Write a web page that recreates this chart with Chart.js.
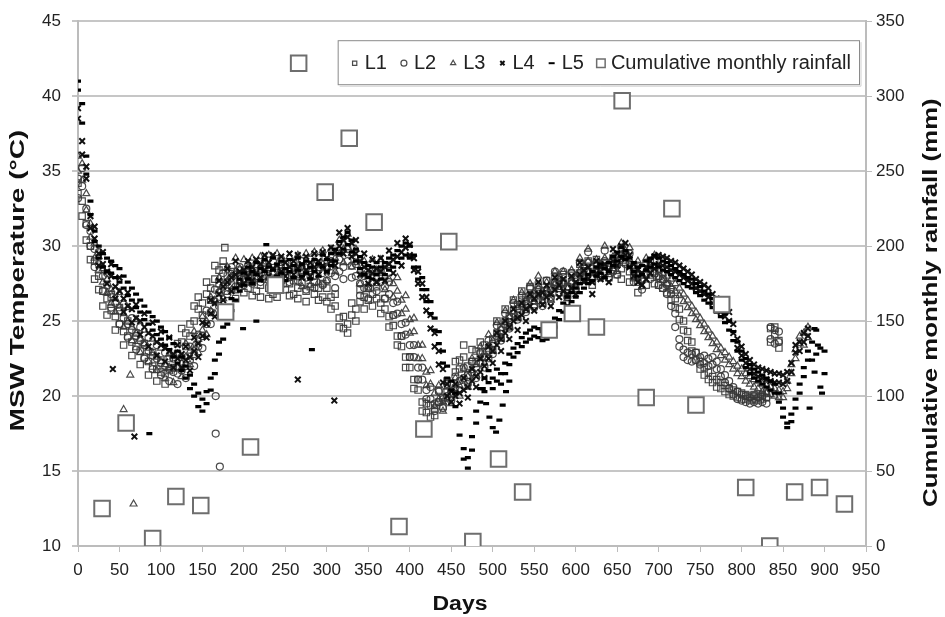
<!DOCTYPE html>
<html>
<head>
<meta charset="utf-8">
<title>MSW temperature and rainfall</title>
<script src="https://cdn.jsdelivr.net/npm/chart.js@4.4.0/dist/chart.umd.min.js"></script>
<style>
    html, body { margin: 0; padding: 0; background: #fff; }
    #wrap { position: relative; width: 945px; height: 617px; }
</style>
</head>
<body>
<div id="wrap"><canvas id="mswChart"></canvas></div>
<script>
// ===== DATA =====
const days = [
    0, 5, 10, 15, 20, 25, 30, 35, 40, 45,
    50, 55, 60, 65, 70, 75, 80, 85, 90, 95,
    100, 105, 110, 115, 120, 125, 130, 135, 140, 145,
    150, 155, 160, 165, 170, 175, 180, 185, 190, 195,
    200, 205, 210, 215, 220, 225, 230, 235, 240, 245,
    250, 255, 260, 265, 270, 275, 280, 285, 290, 295,
    300, 305, 310, 315, 320, 325, 330, 335, 340, 345,
    350, 355, 360, 365, 370, 375, 380, 385, 390, 395,
    400, 405, 410, 415, 420, 425, 430, 435, 440, 445,
    450, 455, 460, 465, 470, 475, 480, 485, 490, 495,
    500, 505, 510, 515, 520, 525, 530, 535, 540, 545,
    550, 555, 560, 565, 570, 575, 580, 585, 590, 595,
    600, 605, 610, 615, 620, 625, 630, 635, 640, 645,
    650, 655, 660, 665, 670, 675, 680, 685, 690, 695,
    700, 705, 710, 715, 720, 725, 730, 735, 740, 745,
    750, 755, 760, 765, 770, 775, 780, 785, 790, 795,
    800, 805, 810, 815, 820, 825, 830, 835, 840, 845,
    850, 855, 860, 865, 870, 875, 880, 885, 890, 895,
    900
];

// L1 - two readings per day slot (main + scatter edge)
const l1Temp = [
    33.5, 33.0, 31.5, 30.0, 29.0, 28.0, 27.0, 26.5, 25.7, 25.3,
    24.8, 24.3, 24.0, 23.6, 23.3, 23.0, 22.6, 22.3, 22.0, 21.8,
    21.6, 21.5, 21.7, 22.6, 23.5, 24.5, 24.2, 24.0, 25.0, 25.8,
    26.2, 26.8, 27.2, 27.8, 28.4, 28.6, 28.0, 27.4, 27.1, 27.5,
    27.8, 27.2, 27.6, 27.0, 27.4, 27.8, 27.2, 26.8, 27.3, 27.7,
    27.1, 27.5, 26.8, 27.2, 27.6, 27.0, 27.3, 26.8, 27.2, 26.6,
    26.3, 26.6, 26.0, 25.2, 24.5, 24.8, 25.4, 25.8, 26.3, 26.6,
    26.4, 26.8, 26.5, 26.2, 25.8, 25.3, 24.7, 24.0, 23.3, 22.6,
    21.9, 21.1, 20.4, 19.6, 18.9, 18.6, 19.2, 19.6, 19.9, 20.3,
    20.8, 21.6, 22.4, 23.4, 22.0, 22.3, 23.0, 23.6, 22.6, 23.2,
    23.8, 24.2, 24.6, 25.0, 25.3, 25.7, 26.1, 26.4, 26.6, 26.7,
    26.8, 26.7, 26.8, 27.0, 27.2, 27.4, 27.6, 27.5, 27.3, 27.6,
    27.9, 28.2, 28.5, 28.3, 28.0, 28.4, 28.7, 28.2, 28.6, 28.4,
    28.1, 28.5, 28.9, 28.3, 27.9, 27.6, 27.8, 28.1, 28.3, 28.2,
    28.0, 27.8, 27.5, 27.1, 26.5, 25.8, 25.0, 24.3, 23.6, 22.9,
    22.3, 21.9, 21.6, 21.3, 21.1, 20.9, 20.7, 20.5, 20.4, 20.3,
    20.2, 20.1, 20.0, 20.1, 20.0, 20.1, 20.2, 24.5, 24.1, 23.7
];
const l1Spread = [
    34.2, 32.0, 30.4, 29.1, 27.8, 27.1, 26.0, 25.4, 26.6, 24.4,
    25.9, 23.4, 25.0, 22.7, 24.2, 22.1, 23.5, 21.4, 22.9, 21.0,
    22.4, 20.8, 22.5, 21.9, 22.8, 23.6, 23.3, 24.8, 26.0, 26.6,
    25.4, 27.6, 26.4, 28.7, 27.5, 29.0, 27.0, 28.3, 26.5, 28.4,
    26.9, 28.1, 26.7, 28.0, 26.6, 28.6, 26.5, 27.7, 26.6, 28.5,
    27.9, 26.7, 27.7, 26.5, 28.4, 26.3, 28.1, 27.6, 26.4, 27.5,
    27.2, 25.8, 26.8, 24.6, 25.3, 24.2, 26.2, 25.0, 27.1, 25.8,
    27.2, 26.0, 27.3, 25.5, 26.5, 24.6, 25.4, 23.4, 24.0, 21.9,
    22.6, 20.5, 21.1, 19.0, 19.5, 19.4, 18.7, 20.4, 19.3, 21.0,
    20.2, 22.3, 21.8, 22.6, 21.4, 23.1, 22.3, 22.8, 23.4, 22.5,
    23.1, 25.0, 23.9, 25.8, 24.6, 26.4, 25.4, 27.0, 25.9, 27.3,
    26.1, 27.4, 26.2, 27.7, 26.5, 28.0, 26.9, 28.1, 26.7, 28.2,
    27.2, 28.8, 27.8, 29.0, 27.4, 29.1, 28.0, 28.9, 27.9, 29.2,
    28.8, 27.8, 29.5, 27.6, 28.6, 26.9, 28.5, 27.4, 29.0, 27.5,
    27.4, 27.2, 26.9, 26.4, 25.9, 25.1, 24.4, 23.7, 23.0, 22.4,
    21.8, 21.4, 21.1, 20.9, 20.6, 20.5, 20.3, 20.1, 20.0, 19.9,
    19.8, 19.8, 19.7, 19.8, 19.7, 19.8, 19.9, 23.6, 24.6, 23.2
];

const l2Temp = [
    34.5, 34.0, 32.5, 31.0, 29.8, 28.8, 28.0, 27.4, 26.8, 26.2,
    25.7, 25.2, 24.8, 24.4, 24.0, 23.7, 23.4, 23.0, 22.7, 22.5,
    22.2, 22.0, 21.8, 21.6, 21.5, 21.7, 22.0, 22.4, 22.8, 23.3,
    24.0, 24.8, 25.6, 26.3, 26.9, 27.3, 27.6, 27.9, 28.1, 27.8,
    28.2, 27.9, 28.3, 28.0, 28.4, 28.1, 28.5, 28.2, 27.9, 28.3,
    28.0, 28.4, 28.1, 28.5, 28.2, 27.9, 28.3, 28.0, 28.4, 28.2,
    28.5, 28.2, 28.0, 28.3, 28.6, 29.0, 28.7, 28.0, 27.5, 27.2,
    27.3, 27.6, 27.8, 27.6, 27.3, 26.8, 26.2, 25.5, 24.8, 24.1,
    23.4, 22.6, 21.9, 21.1, 20.4, 19.8, 19.5, 19.6, 19.8, 20.0,
    20.3, 20.6, 21.0, 21.2, 21.4, 21.6, 21.9, 22.2, 22.6, 23.0,
    23.5, 24.0, 24.4, 24.8, 25.2, 25.5, 25.8, 26.0, 26.3, 26.5,
    26.6, 26.4, 26.7, 27.0, 27.3, 27.6, 27.9, 27.6, 27.3, 27.5,
    27.8, 28.2, 28.6, 28.9, 28.5, 28.2, 28.6, 29.0, 28.6, 28.3,
    28.8, 29.2, 29.5, 28.8, 28.3, 28.0, 27.8, 28.2, 28.5, 28.3,
    28.0, 27.8, 27.4, 26.8, 25.5, 23.8, 23.1, 22.9, 22.8, 22.9,
    22.6, 22.7, 22.5, 22.6, 22.3, 21.8, 21.4, 21.0, 20.6, 20.3,
    20.1, 20.0, 19.9, 20.0, 19.9, 20.0, 19.9, 23.8, 24.4, 23.6
];
const l2Spread = [
    33.2, 35.2, 31.4, 30.0, 28.6, 29.6, 27.0, 28.2, 25.9, 27.0,
    24.8, 26.1, 23.9, 25.2, 23.1, 24.6, 22.5, 23.9, 21.8, 23.4,
    21.4, 22.9, 21.0, 22.5, 20.8, 22.6, 21.2, 23.3, 22.0, 24.1,
    23.2, 25.7, 24.8, 27.1, 26.0, 28.2, 26.8, 28.6, 27.3, 28.6,
    27.4, 28.7, 27.5, 28.8, 27.6, 28.9, 27.7, 29.0, 27.1, 29.1,
    28.8, 27.6, 28.9, 27.7, 29.0, 27.1, 29.1, 27.2, 29.2, 27.4,
    27.7, 29.0, 27.2, 29.1, 27.8, 29.8, 27.9, 28.8, 26.7, 28.0,
    26.5, 28.4, 27.0, 28.4, 26.5, 27.6, 25.4, 26.3, 24.0, 24.9,
    22.6, 23.4, 21.1, 21.9, 19.8, 20.6, 19.0, 20.3, 19.2, 20.8,
    19.7, 21.3, 20.4, 21.9, 20.8, 22.3, 21.2, 22.9, 21.9, 23.7,
    22.8, 24.7, 23.7, 25.5, 24.5, 26.2, 25.1, 26.7, 25.6, 27.2,
    25.9, 27.1, 26.0, 27.7, 26.6, 28.3, 27.2, 28.3, 26.6, 28.2,
    27.1, 28.9, 27.9, 29.6, 27.8, 28.9, 27.9, 29.7, 27.9, 29.0,
    28.1, 29.9, 28.8, 29.5, 27.6, 28.7, 27.1, 28.9, 27.8, 29.0,
    27.4, 27.2, 26.8, 26.0, 24.6, 23.3, 22.6, 22.4, 22.3, 22.4,
    22.1, 22.2, 22.0, 22.1, 21.8, 21.3, 20.9, 20.5, 20.1, 19.8,
    19.7, 19.6, 19.5, 19.6, 19.5, 19.6, 19.5, 24.6, 23.5, 24.3
];

const l3Temp = [
    36.0, 35.5, 33.5, 31.5, 30.2, 29.3, 28.5, 27.8, 27.1, 26.5,
    26.0, 25.5, 25.0, 24.6, 24.2, 23.8, 23.5, 23.2, 22.9, 22.6,
    22.3, 22.1, 21.9, 21.8, 21.9, 22.2, 22.6, 23.0, 23.4, 23.8,
    24.4, 25.0, 25.7, 26.4, 27.0, 27.4, 27.7, 28.0, 28.3, 28.5,
    28.2, 28.6, 28.3, 28.7, 28.4, 28.8, 28.5, 28.2, 28.6, 28.3,
    28.7, 28.4, 28.8, 28.5, 28.2, 28.6, 28.3, 28.7, 28.5, 28.8,
    28.6, 28.9, 29.2, 29.5, 29.8, 29.9, 29.5, 28.9, 28.4, 28.1,
    28.0, 28.2, 28.4, 28.2, 28.0, 27.8, 27.5, 27.0, 26.4, 25.8,
    25.1, 24.3, 23.4, 22.5, 21.6, 20.8, 20.2, 19.8, 19.6, 19.8,
    20.1, 20.4, 20.7, 21.0, 21.3, 21.7, 22.1, 22.5, 22.9, 23.3,
    23.7, 24.1, 24.5, 24.9, 25.3, 25.6, 25.9, 26.1, 26.4, 26.7,
    27.0, 27.2, 27.0, 26.8, 27.1, 27.5, 27.8, 27.5, 27.2, 27.6,
    28.0, 28.4, 28.7, 29.0, 28.6, 28.3, 28.8, 29.2, 28.8, 28.5,
    29.0, 29.4, 29.7, 29.1, 28.6, 28.2, 28.0, 28.4, 28.7, 28.6,
    28.4, 28.2, 28.0, 27.8, 27.5, 27.2, 26.8, 26.4, 26.0, 25.6,
    25.2, 24.8, 24.4, 24.0, 23.6, 23.2, 22.9, 22.6, 22.3, 22.0,
    21.8, 21.5, 21.3, 21.1, 21.0, 20.8, 20.7, 20.6, 20.5, 20.4,
    20.3, 20.5, 21.5, 22.5, 23.5, 24.2, 24.6
];
const l3Spread = [
    35.0, 34.4, 32.4, 30.6, 29.2, 28.4, 27.6, 26.9, 26.2, 25.6,
    26.9, 24.6, 25.9, 23.7, 25.1, 22.9, 24.4, 22.3, 23.8, 21.7,
    23.2, 21.2, 22.8, 20.9, 22.8, 21.3, 23.5, 22.1, 24.3, 22.9,
    25.3, 24.1, 26.6, 25.5, 27.9, 26.5, 28.6, 27.1, 29.2, 27.6,
    29.1, 27.7, 29.2, 27.8, 29.3, 27.9, 29.4, 27.3, 29.5, 27.4,
    27.8, 29.3, 27.9, 29.4, 27.3, 29.5, 27.4, 29.6, 27.6, 29.7,
    27.7, 29.8, 28.3, 30.4, 28.9, 30.8, 28.6, 29.8, 27.5, 29.0,
    27.1, 29.1, 27.5, 29.1, 27.1, 28.7, 26.6, 27.9, 25.5, 26.7,
    24.2, 25.2, 22.5, 23.4, 20.7, 21.7, 19.3, 20.7, 19.0, 20.6,
    19.5, 21.2, 20.0, 21.8, 20.6, 22.5, 21.4, 23.3, 22.2, 24.1,
    23.0, 24.9, 23.8, 25.7, 24.6, 26.4, 25.2, 26.9, 25.7, 27.5,
    26.3, 28.0, 26.3, 27.6, 26.4, 28.3, 27.1, 28.3, 26.5, 28.4,
    27.3, 29.2, 28.0, 29.8, 27.9, 29.1, 28.1, 30.0, 28.1, 29.3,
    28.3, 30.2, 29.0, 29.9, 27.9, 29.0, 27.3, 29.2, 28.0, 29.4,
    27.9, 27.7, 27.5, 27.3, 27.0, 26.7, 26.3, 25.9, 25.5, 25.1,
    24.7, 24.3, 23.9, 23.5, 23.1, 22.7, 22.4, 22.1, 21.8, 21.5,
    21.3, 21.0, 20.8, 20.6, 20.5, 20.3, 20.2, 20.1, 20.0, 19.9,
    19.9, 21.0, 22.1, 23.1, 24.0, 23.4, 23.9
];

const l4Temp = [
    38.5, 37.0, 34.5, 32.0, 30.5, 29.5, 28.8, 28.3, 28.0, 27.3,
    27.0, 26.5, 26.0, 25.8, 25.2, 25.0, 24.6, 24.2, 24.0, 23.6,
    23.4, 23.2, 23.0, 22.8, 22.5, 22.8, 22.4, 22.6, 23.0, 23.5,
    24.0, 24.8, 25.5, 26.2, 26.8, 27.3, 27.6, 27.9, 28.1, 28.3,
    28.4, 28.0, 28.6, 28.2, 28.8, 28.4, 28.9, 28.5, 28.7, 28.3,
    28.9, 28.6, 29.0, 28.5, 28.8, 28.4, 28.9, 28.6, 29.0, 28.7,
    29.2, 29.0, 29.6, 30.0, 30.4, 30.6, 30.2, 29.5, 29.0, 28.6,
    28.4, 28.2, 28.5, 28.3, 28.6, 28.8, 29.1, 29.3, 29.6, 29.9,
    30.1, 29.2, 28.3, 27.5, 26.6, 25.4, 24.2, 23.0, 21.8, 20.8,
    20.3, 20.0, 20.2, 20.4, 20.6, 21.0, 21.3, 21.6, 22.0, 22.5,
    23.0, 23.4, 23.8, 24.2, 24.6, 25.0, 25.2, 25.4, 25.8, 26.0,
    26.5, 26.8, 26.9, 26.6, 26.8, 27.1, 27.4, 27.0, 26.8, 27.2,
    27.6, 28.1, 28.4, 27.8, 27.6, 28.2, 28.6, 28.0, 28.4, 29.0,
    29.5, 30.0, 30.2, 29.4, 28.8, 28.4, 28.2, 28.6, 29.0, 29.3,
    29.4, 29.3, 29.2, 29.0, 28.9, 28.7, 28.5, 28.3, 28.1, 27.8,
    27.6, 27.4, 27.2, 26.8, 26.5, 26.2, 25.9, 25.6, 24.8, 23.8,
    23.3, 22.8, 22.4, 22.1, 21.9, 21.8, 21.7, 21.6, 21.5, 21.5,
    21.4, 21.6, 22.2, 22.9, 23.6, 24.2, 24.5
];
const l4Spread = [
    39.2, 36.1, 35.3, 31.2, 31.3, 28.7, 29.6, 27.5, 28.8, 26.5,
    27.9, 25.6, 26.9, 24.9, 26.1, 24.1, 25.5, 23.3, 24.9, 22.7,
    24.3, 22.3, 23.9, 21.9, 23.4, 21.9, 23.3, 21.7, 23.9, 22.6,
    24.9, 23.9, 26.4, 25.3, 27.7, 26.4, 28.5, 27.0, 29.0, 27.4,
    27.5, 29.0, 27.7, 29.1, 27.9, 29.4, 28.0, 29.4, 27.8, 29.3,
    28.0, 29.5, 28.1, 29.4, 27.9, 29.3, 28.0, 29.5, 28.1, 29.6,
    28.3, 29.9, 28.7, 30.9, 29.5, 31.2, 29.3, 30.4, 28.1, 29.5,
    27.5, 29.1, 27.6, 29.2, 27.7, 29.7, 28.2, 30.2, 28.7, 30.5,
    29.4, 28.4, 27.5, 26.6, 25.7, 24.5, 23.3, 22.1, 20.9, 20.0,
    19.6, 20.8, 19.5, 21.2, 19.9, 21.8, 20.6, 22.5, 21.2, 23.3,
    22.2, 24.2, 23.0, 25.0, 23.8, 25.8, 24.4, 26.2, 25.0, 26.8,
    25.7, 27.6, 26.1, 27.4, 26.0, 27.9, 26.6, 27.8, 26.0, 28.0,
    26.8, 28.9, 27.6, 28.6, 26.8, 29.0, 27.8, 28.8, 27.6, 29.8,
    28.7, 29.2, 29.4, 28.6, 28.0, 27.6, 27.4, 27.8, 28.2, 28.5,
    28.8, 28.7, 28.6, 28.4, 28.3, 28.1, 27.9, 27.7, 27.5, 27.2,
    27.0, 26.8, 26.6, 26.2, 25.9, 25.6, 25.3, 25.0, 24.2, 23.2,
    22.7, 22.2, 21.8, 21.5, 21.3, 21.2, 21.1, 21.0, 20.9, 20.9,
    20.8, 21.0, 21.6, 23.4, 23.0, 23.6, 24.0
];

const l5Temp = [
    41.0, 39.5, 36.0, 33.0, 31.0, 30.0, 29.5, 29.2, 29.0, 28.7,
    28.5, 28.0, 27.6, 27.2, 26.8, 26.4, 26.0, 25.6, 25.3, 25.0,
    24.6, 24.3, 23.9, 23.5, 23.0, 22.6, 22.0, 21.4, 20.8, 20.2,
    19.8, 20.3, 21.2, 22.4, 23.6, 24.6, 25.6, 26.5, 27.2, 27.8,
    28.2, 28.6, 28.3, 28.9, 28.5, 29.1, 28.6, 29.2, 28.8, 29.0,
    28.5, 29.1, 28.7, 29.2, 28.8, 29.0, 28.6, 29.1, 28.8, 29.4,
    29.1, 29.5, 29.8, 30.3, 30.6, 30.9, 30.4, 29.8, 29.3, 28.9,
    28.7, 28.6, 28.9, 28.6, 28.9, 29.2, 29.4, 29.7, 30.0, 30.2,
    30.0, 29.4, 28.6, 27.9, 27.1, 26.3, 25.2, 24.3, 23.0, 22.0,
    21.0, 20.2, 18.5, 16.5, 15.2, 16.4, 18.2, 19.6, 20.3, 20.9,
    21.2, 21.0, 21.5, 22.2, 22.8, 23.2, 23.5, 23.9, 24.2, 24.4,
    24.6, 24.5, 24.3, 24.4, 24.8, 25.2, 25.7, 26.2, 26.6, 26.9,
    27.2, 27.5, 27.8, 28.1, 28.3, 28.6, 28.8, 28.5, 28.9, 29.3,
    29.6, 29.9, 29.7, 29.2, 28.9, 28.6, 28.7, 29.0, 29.2, 29.4,
    29.2, 29.0, 28.9, 28.7, 28.5, 28.3, 28.1, 27.9, 27.8, 27.5,
    27.3, 27.0, 26.8, 26.5, 26.2, 25.9, 25.5, 25.0, 24.3, 23.6,
    23.0, 22.5, 22.1, 21.8, 21.6, 21.4, 21.2, 21.0, 20.8, 20.2,
    19.2, 18.2, 18.3, 19.2, 20.2, 21.3, 22.4, 23.6, 24.4, 23.2,
    21.5
];
const l5Spread = [
    40.4, 38.2, 34.8, 32.1, 30.3, 29.2, 28.6, 28.3, 28.2, 27.9,
    27.6, 27.2, 26.7, 26.4, 25.9, 25.6, 25.1, 24.8, 24.4, 24.1,
    23.8, 23.4, 23.1, 22.6, 22.2, 21.7, 21.2, 20.5, 20.0, 19.3,
    19.0, 19.5, 20.4, 21.5, 22.8, 23.8, 24.8, 25.7, 26.4, 27.0,
    27.4, 27.8, 27.5, 28.1, 27.7, 28.3, 27.8, 28.4, 28.0, 28.2,
    27.7, 28.3, 27.9, 28.4, 28.0, 28.2, 27.8, 28.3, 28.0, 28.6,
    28.3, 28.7, 29.0, 29.5, 29.8, 30.1, 29.6, 29.0, 28.5, 28.1,
    27.9, 27.8, 28.1, 27.8, 28.1, 28.4, 28.6, 28.9, 29.2, 29.4,
    29.2, 28.6, 27.8, 27.1, 26.3, 25.5, 24.4, 23.5, 22.2, 21.2,
    20.4, 19.3, 17.4, 15.8, 15.9, 17.3, 19.0, 20.5, 21.2, 21.7,
    20.5, 21.8, 20.8, 21.5, 22.1, 22.6, 22.9, 23.3, 23.6, 23.8,
    24.0, 23.9, 23.7, 23.8, 24.2, 24.6, 25.1, 25.6, 26.0, 26.3,
    26.6, 26.9, 27.2, 27.5, 27.7, 28.0, 28.2, 27.9, 28.3, 28.7,
    29.0, 29.3, 29.1, 28.6, 28.3, 28.0, 28.1, 28.4, 28.6, 28.8,
    28.6, 28.4, 28.3, 28.1, 27.9, 27.7, 27.5, 27.3, 27.2, 26.9,
    26.7, 26.4, 26.2, 25.9, 25.6, 25.3, 24.9, 24.4, 23.7, 23.0,
    22.4, 21.9, 21.5, 21.2, 21.0, 20.8, 20.6, 20.4, 20.2, 19.6,
    18.6, 17.9, 18.8, 19.8, 20.8, 21.9, 23.0, 22.4, 22.8, 20.6,
    23.0
];

// stray readings away from the main bands
const l1ExtraDays = [177];
const l1ExtraTemp = [29.9];
const l2ExtraDays = [166, 166, 171];
const l2ExtraTemp = [20.0, 17.5, 15.3];
const l3ExtraDays = [55, 63, 67];
const l3ExtraTemp = [19.1, 21.4, 12.8];
const l4ExtraDays = [42, 68, 265, 309];
const l4ExtraTemp = [21.8, 17.3, 21.1, 19.7];
const l5ExtraDays = [86, 199, 215, 227, 282, 488, 492, 496, 500, 504, 508, 512, 516, 520, 882, 888, 888, 892, 897];
const l5ExtraTemp = [17.5, 24.5, 25.0, 30.1, 23.1, 20.5, 19.5, 18.6, 17.9, 17.6, 18.4, 19.4, 20.3, 21.0, 19.2, 24.5, 21.6, 23.4, 20.2];

// cumulative monthly rainfall (mm), right axis
const rainDays = [29, 58, 90, 118, 148, 178, 208, 238, 266, 298, 327, 357, 387, 417, 447, 476,
    507, 536, 568, 596, 625, 656, 685, 716, 745, 776, 805, 834, 864, 894, 924];
const rainMm = [25, 82, 5, 33, 27, 156, 66, 174, 322, 236, 272, 216, 13, 78, 203, 3,
    58, 36, 144, 155, 146, 297, 99, 225, 94, 161, 39, 0, 36, 39, 28];

// ===== HELPERS =====
function toPoints(xs, ys) {
    const pts = [];
    for (let i = 0; i < ys.length; i++) {
        if (ys[i] !== null && ys[i] !== undefined) pts.push({ x: xs[i], y: ys[i] });
    }
    return pts;
}

const FONT = "'Liberation Sans', Arial, sans-serif";
const TEXT = '#222';
const AXIS_GRAY = '#bcbcbc';
const MARK_GRAY = 'rgba(55, 55, 55, 0.9)';

// stretched bold title (the original export has long, narrow title lettering)
function drawTitle(ctx, text, x, y, rotation, size, stretch) {
    ctx.save();
    ctx.translate(x, y);
    ctx.rotate(rotation);
    ctx.scale(stretch, 1);
    ctx.font = 'bold ' + size + 'px ' + FONT;
    ctx.fillStyle = '#111';
    ctx.textAlign = 'center';
    ctx.textBaseline = 'middle';
    ctx.fillText(text, 0, 0);
    ctx.restore();
}

// ===== AXIS TITLES =====
const axisTitles = {
    id: 'axisTitles',
    afterDraw(chart) {
        const ctx = chart.ctx;
        const area = chart.chartArea;
        const midY = (area.top + area.bottom) / 2;
        drawTitle(ctx, 'MSW Temperature (°C)', area.left - 60, midY - 3, -Math.PI / 2, 20, 1.4);
        drawTitle(ctx, 'Cumulative monthly rainfall (mm)', chart.width - 14, midY + 19, -Math.PI / 2, 20, 1.29);
        drawTitle(ctx, 'Days', (area.left + area.right) / 2 - 12, area.bottom + 58, 0, 20, 1.15);
    }
};

// ===== LEGEND BOX (inside the plot, top right) =====
const legendBox = {
    id: 'legendBox',
    afterDraw(chart) {
        const ctx = chart.ctx;
        const area = chart.chartArea;
        const items = chart.data.datasets;
        ctx.save();
        ctx.font = '20px ' + FONT;
        ctx.textBaseline = 'middle';

        const markW = 10, gapAfterMark = 5, gapItems = 12, padL = 12, padR = 8;
        let total = padL + padR;
        items.forEach((ds, i) => {
            total += markW + gapAfterMark + ctx.measureText(ds.label).width;
            if (i < items.length - 1) total += gapItems;
        });

        const right = area.right - 7;
        const left = right - total;
        const top = area.top + 19;
        const h = 44;

        ctx.fillStyle = '#fff';
        ctx.fillRect(left, top, total, h);
        ctx.strokeStyle = '#8a8a8a';
        ctx.lineWidth = 1;
        ctx.strokeRect(left + 0.5, top + 0.5, total, h);
        ctx.strokeStyle = '#cfcfcf';
        ctx.beginPath();
        ctx.moveTo(left + 2, top + h + 2);
        ctx.lineTo(left + total + 2, top + h + 2);
        ctx.lineTo(left + total + 2, top + 2);
        ctx.stroke();

        const cy = top + h / 2 + 1;
        let x = left + padL;
        items.forEach(ds => {
            const big = ds.pointRadius > 6;
            const style = {
                pointStyle: ds.pointStyle,
                radius: big ? 6 : 3,
                rotation: 0,
                borderWidth: big ? 1.5 : Math.min(ds.borderWidth, 2)
            };
            ctx.strokeStyle = ds.borderColor;
            ctx.fillStyle = big ? '#fff' : 'rgba(0,0,0,0)';
            ctx.lineWidth = style.borderWidth;
            Chart.helpers.drawPoint(ctx, style, x + markW / 2, cy);
            x += markW + gapAfterMark;
            ctx.fillStyle = TEXT;
            ctx.fillText(ds.label, x, cy);
            x += ctx.measureText(ds.label).width + gapItems;
        });
        ctx.restore();
    }
};

// ===== CHART =====
const ctx = document.getElementById('mswChart');
const markBase = { showLine: false, yAxisID: 'y', backgroundColor: 'rgba(0,0,0,0)' };

new Chart(ctx, {
    type: 'scatter',
    data: {
        datasets: [
            Object.assign({}, markBase, {
                label: 'L1',
                data: toPoints(days, l1Temp).concat(toPoints(days, l1Spread), toPoints(l1ExtraDays, l1ExtraTemp)),
                pointStyle: 'rect', pointRadius: 4.5, borderColor: MARK_GRAY, borderWidth: 1.2, order: 5
            }),
            Object.assign({}, markBase, {
                label: 'L2',
                data: toPoints(days, l2Temp).concat(toPoints(days, l2Spread), toPoints(l2ExtraDays, l2ExtraTemp)),
                pointStyle: 'circle', pointRadius: 3.5, borderColor: MARK_GRAY, borderWidth: 1.2, order: 4
            }),
            Object.assign({}, markBase, {
                label: 'L3',
                data: toPoints(days, l3Temp).concat(toPoints(days, l3Spread), toPoints(l3ExtraDays, l3ExtraTemp)),
                pointStyle: 'triangle', pointRadius: 4, borderColor: MARK_GRAY, borderWidth: 1.2, order: 3
            }),
            Object.assign({}, markBase, {
                label: 'L4',
                data: toPoints(days, l4Temp).concat(toPoints(days, l4Spread), toPoints(l4ExtraDays, l4ExtraTemp)),
                pointStyle: 'crossRot', pointRadius: 4, borderColor: '#111', borderWidth: 2, order: 2
            }),
            Object.assign({}, markBase, {
                label: 'L5',
                data: toPoints(days, l5Temp).concat(toPoints(days, l5Spread), toPoints(l5ExtraDays, l5ExtraTemp)),
                pointStyle: 'line', pointRadius: 3, borderColor: '#000', borderWidth: 3.2, order: 1
            }),
            {
                label: 'Cumulative monthly rainfall',
                data: toPoints(rainDays, rainMm),
                yAxisID: 'y2',
                showLine: false,
                pointStyle: 'rect',
                pointRadius: 11,
                borderColor: '#6e6e6e',
                backgroundColor: '#fff',
                borderWidth: 2,
                order: 0
            }
        ]
    },
    options: {
        responsive: true,
        maintainAspectRatio: false,
        animation: false,
        events: [],
        layout: { padding: { top: 20, left: 0, right: 0, bottom: 0 } },
        plugins: {
            legend: { display: false },
            tooltip: { enabled: false }
        },
        scales: {
            x: {
                type: 'linear',
                min: 0,
                max: 950,
                ticks: {
                    stepSize: 50,
                    autoSkip: false,
                    maxRotation: 0,
                    padding: 8,
                    color: TEXT,
                    font: { family: FONT, size: 17 }
                },
                grid: { drawOnChartArea: false, color: AXIS_GRAY, tickLength: 6, lineWidth: 1 },
                border: { color: AXIS_GRAY, width: 2 },
                afterFit: function(scale) { scale.height = 71; }
            },
            y: {
                position: 'left',
                min: 10,
                max: 45,
                ticks: {
                    stepSize: 5,
                    padding: 11,
                    color: TEXT,
                    font: { family: FONT, size: 17 }
                },
                grid: { color: '#c6c6c6', lineWidth: 2, tickLength: 6 },
                border: { color: AXIS_GRAY, width: 2 },
                afterFit: function(scale) { scale.width = 78; }
            },
            y2: {
                position: 'right',
                min: 0,
                max: 350,
                ticks: {
                    stepSize: 50,
                    padding: 4,
                    color: TEXT,
                    font: { family: FONT, size: 17 }
                },
                grid: { drawOnChartArea: false, color: AXIS_GRAY, tickLength: 6 },
                border: { color: AXIS_GRAY, width: 2 },
                afterFit: function(scale) { scale.width = 79; }
            }
        }
    },
    plugins: [legendBox, axisTitles]
});
</script>
</body>
</html>
